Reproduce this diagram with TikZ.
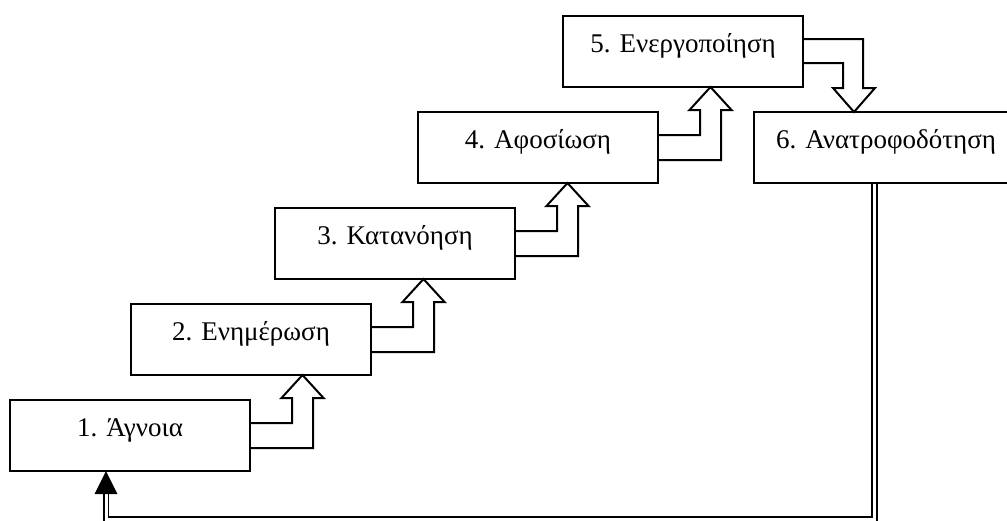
\documentclass[tikz,border=0pt]{standalone}
\usepackage{fontspec}
\setmainfont{Liberation Serif}
\usetikzlibrary{calc}

% Hollow block arrow climbing from the right side of one stage to the bottom of the next
\newcommand\stepconn[2]{%
  \draw[blockarrow] let \p1=(#1.north east), \p2=(#2.south) in
    (\x1,\y1-23pt) -- (\x1+42pt,\y1-23pt) -- (\x1+42pt,\y2-23pt)
    -- (\x1+31.5pt,\y2-23pt) -- (\x1+52.5pt,\y2) -- (\x1+73.5pt,\y2-23pt)
    -- (\x1+63pt,\y2-23pt) -- (\x1+63pt,\y1-48pt) -- (\x1,\y1-48pt);}

% Hollow block arrow going down from the right side of one stage to the top of the next
\newcommand\dropconn[2]{%
  \draw[blockarrow] let \p1=(#1.north east), \p2=(#2.north) in
    (\x1,\y1-23pt) -- (\x1+60pt,\y1-23pt) -- (\x1+60pt,\y2+24pt)
    -- (\x1+72pt,\y2+24pt) -- (\x1+51pt,\y2) -- (\x1+30pt,\y2+24pt)
    -- (\x1+40pt,\y2+24pt) -- (\x1+40pt,\y1-47pt) -- (\x1,\y1-47pt);}

\begin{document}
\begin{tikzpicture}[x=1pt,y=-1pt,
  stage/.style={draw, line width=2pt, anchor=north west, outer sep=0pt,
    minimum width=240pt, inner xsep=0pt, inner ysep=0pt,
    text height=36pt, text depth=35pt, font=\fontsize{27}{30}\selectfont},
  blockarrow/.style={draw, line width=2pt, line join=miter},
  feedback/.style={draw, line width=1.8pt, double=white, double distance=3pt}]
\useasboundingbox (0,0) rectangle (1007,520);
\fill[white] (0,0) rectangle (1007,520);
\clip (0,0) rectangle (1007,520);

% stages of the staircase
\node[stage] (b1) at (10,400) {1. Άγνοια};
\node[stage] (b2) at (131,304) {2. Ενημέρωση};
\node[stage] (b3) at (275,208) {3. Κατανόηση};
\node[stage] (b4) at (418,112) {4. Αφοσίωση};
\node[stage] (b5) at (563,16) {5. Ενεργοποίηση};
\node[stage, minimum width=264pt] (b6) at (754,112) {6. Ανατροφοδότηση};

% steps between stages
\stepconn{b1}{b2}
\stepconn{b2}{b3}
\stepconn{b3}{b4}
\stepconn{b4}{b5}
\dropconn{b5}{b6}

% feedback loop back to the first stage
\coordinate (loopR) at (874.5,519.3);
\coordinate (loopL) at (106,519.3);
\draw[feedback] ($(b6.south -| loopR)+(0,1)$) -- (loopR) -- (loopL)
  -- ($(b1.south -| loopL)+(0,22)$);
\fill ($(b1.south -| loopL)+(-11.5,23)$) -- (b1.south -| loopL)
  -- ($(b1.south -| loopL)+(11.5,23)$) -- cycle;
\end{tikzpicture}
\end{document}
